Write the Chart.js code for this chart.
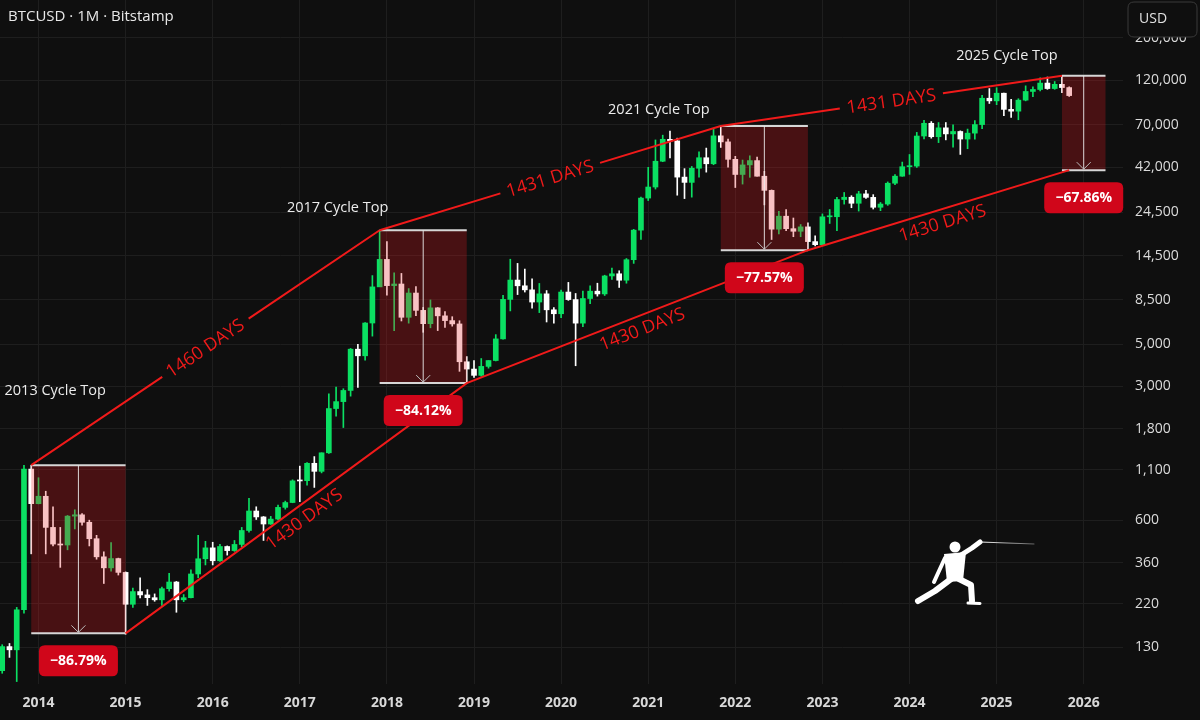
<!DOCTYPE html>
<html>
<head>
<meta charset="utf-8">
<title>BTCUSD 1M Bitstamp</title>
<script src="https://cdn.jsdelivr.net/npm/chart.js@4.4.1/dist/chart.umd.min.js"></script>
<style>
  html, body { margin: 0; padding: 0; background: #0f0f0f; }
  #wrap { width: 1200px; height: 720px; position: relative; }
</style>
</head>
<body>
<div id="wrap"><canvas id="chart"></canvas></div>
<script>
// monthly candles, Aug 2013 .. Nov 2025
const months = [
  "2013-08","2013-09","2013-10","2013-11","2013-12",
  "2014-01","2014-02","2014-03","2014-04","2014-05","2014-06","2014-07","2014-08","2014-09","2014-10","2014-11","2014-12",
  "2015-01","2015-02","2015-03","2015-04","2015-05","2015-06","2015-07","2015-08","2015-09","2015-10","2015-11","2015-12",
  "2016-01","2016-02","2016-03","2016-04","2016-05","2016-06","2016-07","2016-08","2016-09","2016-10","2016-11","2016-12",
  "2017-01","2017-02","2017-03","2017-04","2017-05","2017-06","2017-07","2017-08","2017-09","2017-10","2017-11","2017-12",
  "2018-01","2018-02","2018-03","2018-04","2018-05","2018-06","2018-07","2018-08","2018-09","2018-10","2018-11","2018-12",
  "2019-01","2019-02","2019-03","2019-04","2019-05","2019-06","2019-07","2019-08","2019-09","2019-10","2019-11","2019-12",
  "2020-01","2020-02","2020-03","2020-04","2020-05","2020-06","2020-07","2020-08","2020-09","2020-10","2020-11","2020-12",
  "2021-01","2021-02","2021-03","2021-04","2021-05","2021-06","2021-07","2021-08","2021-09","2021-10","2021-11","2021-12",
  "2022-01","2022-02","2022-03","2022-04","2022-05","2022-06","2022-07","2022-08","2022-09","2022-10","2022-11","2022-12",
  "2023-01","2023-02","2023-03","2023-04","2023-05","2023-06","2023-07","2023-08","2023-09","2023-10","2023-11","2023-12",
  "2024-01","2024-02","2024-03","2024-04","2024-05","2024-06","2024-07","2024-08","2024-09","2024-10","2024-11","2024-12",
  "2025-01","2025-02","2025-03","2025-04","2025-05","2025-06","2025-07","2025-08","2025-09","2025-10","2025-11"
];
const opens = [
  98, 131, 126, 204, 1110,
  732, 800, 550, 450, 445, 630, 640, 585, 480, 386, 338, 378,
  320, 218, 254, 244, 236, 230, 263, 285, 230, 236, 314, 377,
  430, 368, 437, 416, 448, 530, 670, 624, 573, 608, 700, 742,
  963, 965, 1190, 1080, 1350, 2300, 2500, 2860, 4700, 4340, 6440, 9950,
  13850, 10100, 10300, 6900, 9240, 7500, 6390, 7730, 7020, 6630, 6370, 4040,
  3700, 3430, 3820, 4100, 5320, 8560, 10800, 10080, 9600, 8290, 9150, 7550,
  7200, 9350, 8540, 6430, 8650, 9450, 9140, 11350, 11650, 10780, 13800, 19700,
  28980, 33100, 45150, 58800, 57700, 37300, 35000, 41500, 47100, 43800, 61300, 57000,
  46200, 38500, 43200, 45500, 37700, 31800, 19930, 23300, 20050, 19430, 20490, 17160,
  16540, 23130, 23150, 28480, 29270, 27220, 30480, 29230, 25940, 26970, 34650, 37720,
  42280, 42580, 61160, 71300, 60660, 67500, 62750, 64600, 58970, 63330, 70200, 96400,
  93400, 102400, 84300, 82500, 94200, 104600, 107100, 115700, 108300, 114000, 109600
];
const highs = [
  134, 136, 210, 1160, 1163,
  1000, 850, 705, 550, 635, 680, 650, 600, 500, 410, 458, 380,
  322, 265, 300, 260, 247, 268, 316, 287, 245, 330, 500, 465,
  460, 448, 440, 470, 550, 780, 705, 627, 628, 720, 755, 975,
  1150, 1200, 1290, 1350, 2750, 2980, 2920, 4740, 4980, 6470, 11400, 19666,
  17180, 11780, 11700, 9750, 9990, 7770, 8500, 7760, 7400, 6950, 6620, 4300,
  4100, 4200, 4100, 5600, 9000, 13880, 13200, 12330, 10950, 10370, 9520, 7750,
  9580, 10500, 9190, 9470, 10080, 10400, 11450, 12480, 12080, 14000, 19900, 29300,
  41950, 58350, 61800, 64900, 59600, 41300, 42400, 50500, 52900, 67000, 69000, 59000,
  47900, 45800, 48200, 47400, 40000, 31950, 24670, 25200, 22800, 21080, 21480, 18400,
  23950, 25250, 29200, 31000, 29820, 31440, 31800, 30200, 27480, 35200, 38430, 44700,
  48970, 63900, 73800, 72800, 71950, 71950, 70000, 65100, 66500, 73600, 99800, 108300,
  109400, 102500, 95000, 95800, 111900, 110500, 123200, 124400, 117900, 126200, 110600
];
const lows = [
  95, 115, 86, 196, 400,
  730, 400, 440, 340, 420, 540, 565, 440, 375, 280, 325, 310,
  152, 210, 235, 215, 226, 215, 255, 198, 225, 235, 300, 350,
  350, 365, 394, 412, 436, 520, 605, 470, 570, 602, 685, 740,
  750, 915, 890, 1060, 1340, 2100, 1830, 2670, 2970, 4120, 5500, 10700,
  9000, 5870, 6600, 6430, 7030, 5760, 6080, 5880, 6100, 6200, 3600, 3124,
  3350, 3390, 3740, 4080, 5300, 7450, 9070, 9350, 7710, 7300, 6520, 6430,
  6870, 8460, 3850, 6160, 8130, 8900, 8970, 10900, 9880, 10400, 13200, 17600,
  28130, 32300, 44900, 47000, 30000, 28800, 29300, 37300, 39600, 43300, 53300, 42000,
  32900, 34300, 37200, 37700, 26700, 17600, 18800, 19550, 18200, 18200, 15480, 16300,
  16500, 21350, 19570, 26950, 25800, 24780, 28860, 25400, 24900, 26550, 34100, 37650,
  38550, 41900, 59100, 59600, 56500, 58400, 53500, 49000, 52500, 58900, 66800, 90500,
  89200, 78200, 76600, 74400, 93400, 98300, 105300, 107300, 107300, 103000, 98500
];
const closes = [
  131, 126, 204, 1110, 732,
  800, 550, 450, 445, 630, 640, 585, 480, 386, 338, 378, 320,
  218, 254, 244, 236, 230, 263, 285, 230, 236, 314, 377, 430,
  368, 437, 416, 448, 530, 670, 624, 573, 608, 700, 742, 963,
  962, 1190, 1080, 1350, 2300, 2500, 2860, 4700, 4340, 6440, 9950, 13850,
  10100, 10300, 6900, 9240, 7500, 6390, 7730, 7020, 6630, 6370, 4040, 3700,
  3430, 3820, 4100, 5320, 8560, 10800, 10080, 9600, 8290, 9150, 7550, 7200,
  9350, 8540, 6430, 8650, 9450, 9140, 11350, 11650, 10780, 13800, 19700, 28980,
  33100, 45150, 58800, 57700, 37300, 35000, 41500, 47100, 43800, 61300, 57000, 46200,
  38500, 43200, 45500, 37700, 31800, 19930, 23300, 20050, 19430, 20490, 17160, 16540,
  23130, 23150, 28480, 29270, 27220, 30480, 29230, 25940, 26970, 34650, 37720, 42280,
  42580, 61160, 71300, 60660, 67500, 62750, 64600, 58970, 63330, 70200, 96400, 93400,
  102400, 84300, 82500, 94200, 104600, 107100, 115700, 108300, 114000, 109600, 99500
];

// cycle tops and drawdowns
const cycleNames = ["2013 Cycle Top", "2017 Cycle Top", "2021 Cycle Top", "2025 Cycle Top"];
const topMonths = ["2013-12", "2017-12", "2021-11", "2025-10"];
const topPrices = [1163, 19666, 69000, 126200];
const bottomEndMonths = ["2015-01", "2018-12", "2022-11", "2026-04"];
const bottomPrices = [153.6, 3124, 15476, 40560];
const drawdowns = [-86.79, -84.12, -77.57, -67.86];
const topGapLabels = ["1460 DAYS", "1431 DAYS", "1431 DAYS"];
const lowLineMonths = ["2015-01", "2018-12", "2022-11", "2025-11"];
const lowLinePrices = [153.6, 3124, 15476, 40560];
const lowGapLabels = ["1430 DAYS", "1430 DAYS", "1430 DAYS"];

// axes
const xTicks = [2014, 2015, 2016, 2017, 2018, 2019, 2020, 2021, 2022, 2023, 2024, 2025, 2026];
const yTicks = [130, 220, 360, 600, 1100, 1800, 3000, 5000, 8500, 14500, 24500, 42000, 70000, 120000, 200000];

const UP = "#0be063";
const DOWN = "#ffffff";
const RED = "#f01a1a";
const GRID = "#1e1e1e";
const FONT = "'Open Sans', 'DejaVu Sans', sans-serif";

function toYear(s) {
    const [yy, mm] = s.split("-").map(Number);
    return yy + (mm - 1) / 12;
}

const candleColors = months.map((m, i) => closes[i] >= opens[i] ? UP : DOWN);
const wickData = months.map((m, i) => ({ x: toYear(m), y: [lows[i], highs[i]] }));
const bodyData = months.map((m, i) => ({
    x: toYear(m),
    y: [Math.min(opens[i], closes[i]), Math.max(opens[i], closes[i])]
}));

function roundRect(ctx, x, y, w, h, r) {
    ctx.beginPath();
    ctx.moveTo(x + r, y);
    ctx.lineTo(x + w - r, y);
    ctx.quadraticCurveTo(x + w, y, x + w, y + r);
    ctx.lineTo(x + w, y + h - r);
    ctx.quadraticCurveTo(x + w, y + h, x + w - r, y + h);
    ctx.lineTo(x + r, y + h);
    ctx.quadraticCurveTo(x, y + h, x, y + h - r);
    ctx.lineTo(x, y + r);
    ctx.quadraticCurveTo(x, y, x + r, y);
    ctx.closePath();
}

function rotatedText(ctx, text, cx, cy, angle) {
    ctx.save();
    ctx.translate(cx, cy);
    ctx.rotate(angle);
    ctx.fillText(text, 0, 0);
    ctx.restore();
}

function drawFencer(ctx) {
    ctx.save();
    ctx.fillStyle = "#ffffff";
    ctx.strokeStyle = "#ffffff";
    ctx.lineCap = "round";
    ctx.lineJoin = "round";
    ctx.beginPath();
    ctx.arc(955, 547, 5.5, 0, Math.PI * 2);
    ctx.fill();
    ctx.beginPath();
    ctx.moveTo(944, 554); ctx.lineTo(966, 552); ctx.lineTo(963, 581); ctx.lineTo(947, 582);
    ctx.closePath();
    ctx.fill();
    ctx.lineWidth = 5;
    ctx.beginPath(); ctx.moveTo(961, 555); ctx.lineTo(972, 548); ctx.lineTo(980, 542); ctx.stroke();
    ctx.lineWidth = 4;
    ctx.beginPath(); ctx.moveTo(945, 558); ctx.lineTo(939, 571); ctx.lineTo(934, 582); ctx.stroke();
    ctx.lineWidth = 6;
    ctx.beginPath(); ctx.moveTo(951, 579); ctx.lineTo(935, 591); ctx.lineTo(918, 601); ctx.stroke();
    ctx.beginPath(); ctx.moveTo(959, 579); ctx.lineTo(971, 585); ctx.lineTo(972, 601); ctx.stroke();
    ctx.lineWidth = 3;
    ctx.beginPath(); ctx.moveTo(968, 603); ctx.lineTo(980, 603.5); ctx.stroke();
    const g = ctx.createLinearGradient(980, 0, 1034, 0);
    g.addColorStop(0, "rgba(255,255,255,1)");
    g.addColorStop(1, "rgba(160,160,160,0.6)");
    ctx.strokeStyle = g;
    ctx.lineWidth = 1;
    ctx.beginPath(); ctx.moveTo(980, 542); ctx.lineTo(1034, 544); ctx.stroke();
    ctx.restore();
}

/** kotak drawdown, garis tren, label */
const cyclePlugin = {
    id: "cycles",
    afterDatasetsDraw(chart) {
        const { ctx, chartArea: area, scales: { x, y } } = chart;
        const px = s => x.getPixelForValue(toYear(s));

        ctx.save();
        ctx.beginPath();
        ctx.rect(area.left, area.top, area.width, area.height);
        ctx.clip();

        // drawdown boxes
        topMonths.forEach((m, i) => {
            const x0 = px(m), x1 = px(bottomEndMonths[i]);
            const y0 = y.getPixelForValue(topPrices[i]), y1 = y.getPixelForValue(bottomPrices[i]);
            ctx.fillStyle = "rgba(230,25,35,0.27)";
            ctx.fillRect(x0, y0, x1 - x0, y1 - y0);
            ctx.strokeStyle = "#d6d6d6";
            ctx.lineWidth = 2;
            ctx.beginPath();
            ctx.moveTo(x0, y0); ctx.lineTo(x1, y0);
            ctx.moveTo(x0, y1); ctx.lineTo(x1, y1);
            ctx.stroke();
            const xm = (x0 + x1) / 2;
            ctx.strokeStyle = "rgba(235,235,235,0.9)";
            ctx.lineWidth = 1;
            ctx.beginPath();
            ctx.moveTo(xm, y0); ctx.lineTo(xm, y1 - 1);
            ctx.stroke();
            ctx.strokeStyle = "#bdbdbd";
            ctx.beginPath();
            ctx.moveTo(xm - 7, y1 - 8); ctx.lineTo(xm, y1 - 1); ctx.lineTo(xm + 7, y1 - 8);
            ctx.stroke();
        });

        ctx.strokeStyle = RED;
        ctx.fillStyle = RED;
        ctx.lineWidth = 2;
        ctx.font = "500 18px " + FONT;
        ctx.textAlign = "center";
        ctx.textBaseline = "middle";

        // upper line, text sits in a gap
        for (let i = 0; i < topMonths.length - 1; i++) {
            const ax = px(topMonths[i]), ay = y.getPixelForValue(topPrices[i]);
            const bx = px(topMonths[i + 1]), by = y.getPixelForValue(topPrices[i + 1]);
            const len = Math.hypot(bx - ax, by - ay);
            const ux = (bx - ax) / len, uy = (by - ay) / len;
            const mx = (ax + bx) / 2, my = (ay + by) / 2;
            const g = ctx.measureText(topGapLabels[i]).width / 2 + 7;
            ctx.beginPath();
            ctx.moveTo(ax, ay); ctx.lineTo(mx - ux * g, my - uy * g);
            ctx.moveTo(mx + ux * g, my + uy * g); ctx.lineTo(bx, by);
            ctx.stroke();
            rotatedText(ctx, topGapLabels[i], mx, my + 1, Math.atan2(by - ay, bx - ax));
        }

        // lower line, text under it
        ctx.beginPath();
        lowLineMonths.forEach((m, i) => {
            const lx = px(m), ly = y.getPixelForValue(lowLinePrices[i]);
            if (i === 0) ctx.moveTo(lx, ly); else ctx.lineTo(lx, ly);
        });
        ctx.stroke();
        for (let i = 0; i < lowLineMonths.length - 1; i++) {
            const ax = px(lowLineMonths[i]), ay = y.getPixelForValue(lowLinePrices[i]);
            const bx = px(lowLineMonths[i + 1]), by = y.getPixelForValue(lowLinePrices[i + 1]);
            const len = Math.hypot(bx - ax, by - ay);
            const ux = (bx - ax) / len, uy = (by - ay) / len;
            const off = 14;
            const cx = (ax + bx) / 2 - uy * off, cy = (ay + by) / 2 + ux * off;
            rotatedText(ctx, lowGapLabels[i], cx, cy, Math.atan2(by - ay, bx - ax));
        }
        ctx.restore();

        // percentage badges + cycle top names
        ctx.save();
        topMonths.forEach((m, i) => {
            const x0 = px(m), x1 = px(bottomEndMonths[i]);
            const xm = (x0 + x1) / 2;
            const y1 = y.getPixelForValue(bottomPrices[i]);
            ctx.fillStyle = "#d0061a";
            roundRect(ctx, xm - 39.5, y1 + 12, 79, 31, 6);
            ctx.fill();
            ctx.fillStyle = "#ffffff";
            ctx.font = "bold 14px " + FONT;
            ctx.textAlign = "center";
            ctx.textBaseline = "middle";
            ctx.fillText("\u2212" + Math.abs(drawdowns[i]).toFixed(2) + "%", xm, y1 + 28);
        });

        const nameOffsets = [[24, -74], [-42, -22], [-62, -16], [-55, -20]];
        ctx.fillStyle = "#ececec";
        ctx.font = "14.5px " + FONT;
        ctx.textAlign = "center";
        ctx.textBaseline = "middle";
        cycleNames.forEach((t, i) => {
            const tx = px(topMonths[i]) + nameOffsets[i][0];
            const ty = y.getPixelForValue(topPrices[i]) + nameOffsets[i][1];
            ctx.fillText(t, tx, ty);
        });
        ctx.restore();

        drawFencer(ctx);
    },
    afterDraw(chart) {
        const ctx = chart.ctx;
        ctx.save();
        ctx.fillStyle = "#e8e8e8";
        ctx.font = "15px " + FONT;
        ctx.textAlign = "left";
        ctx.textBaseline = "middle";
        ctx.fillText("BTCUSD \u00b7 1M \u00b7 Bitstamp", 8, 17);

        // USD badge, covers the top of the 200,000 label like the original
        roundRect(ctx, 1128, 2, 69, 35, 6);
        ctx.fillStyle = "#0f0f0f";
        ctx.fill();
        ctx.strokeStyle = "#3a3a3a";
        ctx.lineWidth = 1;
        ctx.stroke();
        ctx.fillStyle = "#e0e0e0";
        ctx.font = "14px " + FONT;
        ctx.fillText("USD", 1139, 19);
        ctx.restore();
    }
};

function noPad(s) {
    s.paddingTop = 0;
    s.paddingBottom = 0;
    s.paddingLeft = 0;
    s.paddingRight = 0;
}

new Chart(document.getElementById("chart"), {
    type: "bar",
    data: {
        datasets: [
            {
                data: wickData,
                backgroundColor: candleColors,
                barThickness: 1,
                grouped: false,
                borderWidth: 0
            },
            {
                data: bodyData,
                backgroundColor: candleColors,
                barThickness: 5,
                grouped: false,
                minBarLength: 1,
                borderWidth: 0
            }
        ]
    },
    options: {
        responsive: true,
        maintainAspectRatio: false,
        animation: false,
        devicePixelRatio: 1,
        layout: { padding: 0, autoPadding: false },
        plugins: {
            legend: { display: false },
            tooltip: { enabled: false }
        },
        scales: {
            x: {
                type: "linear",
                min: 2013.558,
                max: 2026.451,
                offset: false,
                grid: { color: GRID, drawTicks: false, offset: false },
                border: { display: false },
                ticks: {
                    color: "#d8d8d8",
                    font: { family: FONT, size: 14, weight: "bold" },
                    padding: 11,
                    autoSkip: false,
                    maxRotation: 0,
                    callback: v => String(v)
                },
                afterBuildTicks: s => { s.ticks = xTicks.map(v => ({ value: v })); },
                afterFit: s => { s.height = 36; noPad(s); }
            },
            y: {
                type: "logarithmic",
                position: "right",
                min: 83.5,
                max: 314500,
                grid: { color: GRID, drawTicks: false },
                border: { display: false },
                ticks: {
                    color: "#dcdcdc",
                    font: { family: FONT, size: 14 },
                    padding: 12,
                    autoSkip: false,
                    callback: v => Number(v).toLocaleString("en-US")
                },
                afterBuildTicks: s => { s.ticks = yTicks.map(v => ({ value: v })); },
                afterFit: s => { s.width = 77; noPad(s); }
            }
        }
    },
    plugins: [cyclePlugin]
});
</script>
</body>
</html>
